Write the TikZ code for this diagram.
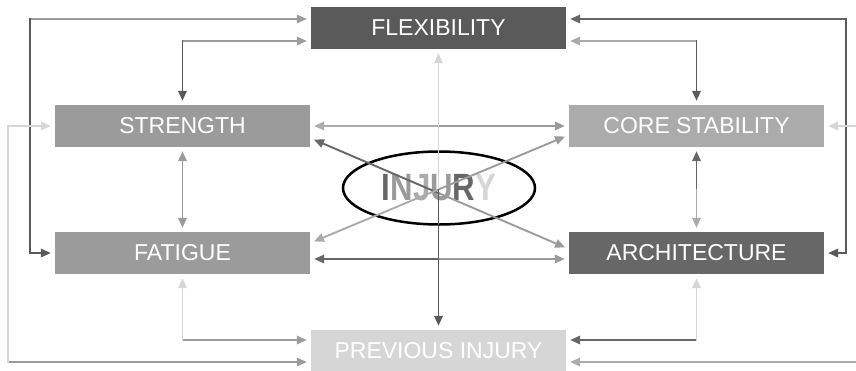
\documentclass[tikz,border=0pt]{standalone}
\usepackage{fontspec}
\setmainfont{Liberation Sans}
\newfontfamily\injuryfont{Liberation Sans}[FakeStretch=0.82]
\usetikzlibrary{shapes,arrows.meta,calc}

\definecolor{flexcol}{HTML}{5A5A5A}
\definecolor{strcol}{HTML}{9B9B9B}
\definecolor{corecol}{HTML}{ABABAB}
\definecolor{fatcol}{HTML}{9B9B9B}
\definecolor{archcol}{HTML}{676767}
\definecolor{prevcol}{HTML}{D6D6D6}

\begin{document}
\begin{tikzpicture}[
    x=1pt, y=-1pt,
    box/.style={fill=#1, text=white, minimum width=255pt, minimum height=42pt, inner sep=0pt, font=\fontsize{23}{23}\selectfont},
    arrow/.style={line width=1.9pt, draw=#1, line cap=rect, -{Triangle[length=10pt,width=8.5pt]}, shorten >=4pt}
]
\clip (0,0) rectangle (856,370);

\node (flex) [box=flexcol] at (438.5,28) {FLEXIBILITY};
\node (strength) [box=strcol] at (182.5,126) {STRENGTH};
\node (core) [box=corecol] at (696.5,126) {CORE STABILITY};
\node (fatigue) [box=fatcol] at (182.5,253) {FATIGUE};
\node (arch) [box=archcol] at (696.5,253) {ARCHITECTURE};
\node (prev) [box=prevcol] at (438.5,351) {PREVIOUS INJURY};

\node (injury) [draw, ellipse, line width=2.5pt, minimum width=192pt, minimum height=73pt, inner sep=0pt] at (439,188)
  {\injuryfont\bfseries\fontsize{38}{38}\selectfont\textcolor{archcol}{I}\textcolor{strcol}{N}\textcolor{corecol}{J}\textcolor{strcol}{U}\textcolor{archcol}{R}\textcolor{prevcol}{Y}};

% corners
\coordinate (lo) at (30,19);
\coordinate (ro) at (846,19);
\coordinate (fl) at (182.5,41);
\coordinate (fr) at (696.5,41);
\coordinate (pl) at (182.5,340);
\coordinate (pr) at (696.5,340);
\coordinate (plo) at (8,362);
\coordinate (pro) at (866,362);

% outer loops
\draw [arrow=fatcol] (lo) -- (lo -| flex.west);
\draw [arrow=flexcol] (lo) |- (fatigue.west);
\draw [arrow=archcol] (ro) -- (ro -| flex.east);
\draw [arrow=flexcol] (ro) |- (arch.east);
\draw [arrow=strcol] (plo) -- (plo -| prev.west);
\draw [arrow=prevcol] (plo) |- (strength.west);
\draw [arrow=corecol] (pro) -- (pro -| prev.east);
\draw [arrow=prevcol] (pro) |- (core.east);

% inner loops
\draw [arrow=strcol] (fl) -- (fl -| flex.west);
\draw [arrow=flexcol] (fl) -- (strength.north);
\draw [arrow=corecol] (fr) -- (fr -| flex.east);
\draw [arrow=flexcol] (fr) -- (core.north);
\draw [arrow=fatcol] (pl) -- (pl -| prev.west);
\draw [arrow=prevcol] (pl) -- (fatigue.south);
\draw [arrow=archcol] (pr) -- (pr -| prev.east);
\draw [arrow=prevcol] (pr) -- (arch.south);

% columns
\coordinate (sf) at ($(strength.south)!0.5!(fatigue.north)$);
\draw [arrow=fatcol] (sf) -- (strength.south);
\draw [arrow=strcol] (sf) -- (fatigue.north);
\coordinate (ca) at ($(core.south)!0.5!(arch.north)$);
\draw [arrow=archcol] (ca) -- (core.south);
\draw [arrow=corecol] (ca) -- (arch.north);

% across the middle
\coordinate (sc) at ($(strength.east)!0.5!(core.west)$);
\draw [arrow=corecol] (sc) -- (strength.east);
\draw [arrow=strcol] (sc) -- (core.west);
\coordinate (fa) at ($([yshift=-6pt]fatigue.east)!0.5!([yshift=-6pt]arch.west)$);
\draw [arrow=archcol] (fa) -- ([yshift=-6pt]fatigue.east);
\draw [arrow=fatcol] (fa) -- ([yshift=-6pt]arch.west);
\coordinate (sa) at ($([yshift=-12pt]strength.east)!0.5!([yshift=4pt]arch.west)$);
\draw [arrow=archcol] (sa) -- ([yshift=-12pt]strength.east);
\draw [arrow=strcol] (sa) -- ([yshift=4pt]arch.west);
\coordinate (fc) at ($([yshift=10pt]fatigue.east)!0.5!([yshift=-9pt]core.west)$);
\draw [arrow=corecol] (fc) -- ([yshift=10pt]fatigue.east);
\draw [arrow=fatcol] (fc) -- ([yshift=-9pt]core.west);
\coordinate (fp) at ($(flex.south)!0.5!(prev.north)$);
\draw [arrow=prevcol] (fp) -- (flex.south);
\draw [arrow=flexcol] (fp) -- (prev.north);

\end{tikzpicture}
\end{document}
